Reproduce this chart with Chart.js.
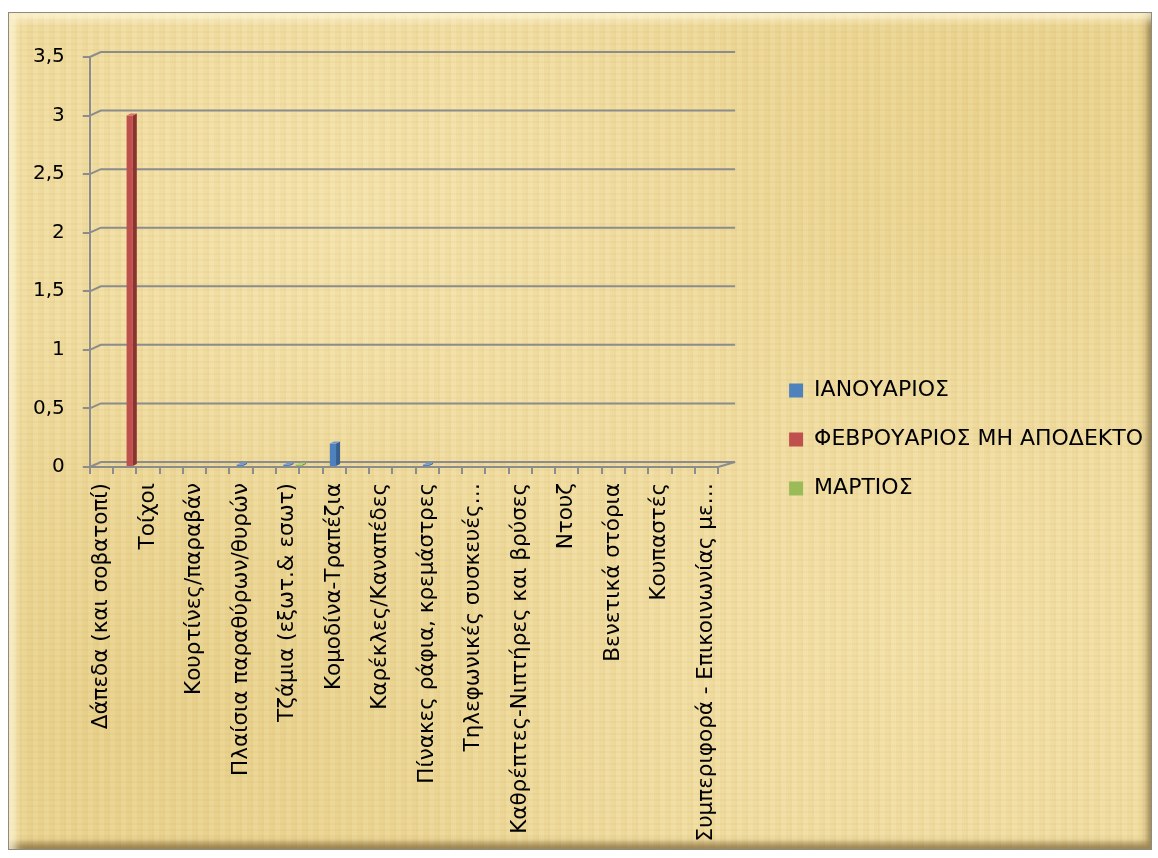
<!DOCTYPE html>
<html>
  <head>
    <meta charset="utf-8">
    <script src="https://cdn.jsdelivr.net/npm/chart.js@4.4.1/dist/chart.umd.min.js"></script>
    <style>
      body { margin: 0; background: #fff; }
      #frame {
        position: absolute; left: 8px; top: 12px; width: 1142px; height: 836px;
        border: 1px solid #8d8a80;
        background:
          repeating-linear-gradient(90deg, rgba(205,170,90,0.10) 0 2px, rgba(255,248,215,0.07) 2px 7px, rgba(205,170,90,0.05) 7px 11px),
          repeating-linear-gradient(0deg, rgba(205,170,90,0.08) 0 2px, rgba(255,248,215,0.05) 2px 6px),
          radial-gradient(ellipse at 30% 25%, rgba(248,234,185,0.55), rgba(248,234,185,0) 40%),
          radial-gradient(ellipse at 80% 75%, rgba(246,230,178,0.5), rgba(246,230,178,0) 45%),
          radial-gradient(ellipse at 10% 85%, rgba(222,195,115,0.45), rgba(222,195,115,0) 40%),
          radial-gradient(ellipse at 90% 10%, rgba(225,198,118,0.4), rgba(225,198,118,0) 35%),
          #eed99a;
        box-shadow: inset 7px 7px 8px rgba(255,248,220,0.75), inset -4px -6px 6px rgba(110,85,40,0.65);
      }
      #wrap { position: absolute; left: 0; top: 0; width: 1158px; height: 858px; }
    </style>
  </head>

  <body>
    <div id="frame"></div>
    <div id="wrap">
      <canvas id="canvas"></canvas>
    </div>
    <script>
      // categories (every other label is not shown in the original chart)
      const categories = [
        'Δάπεδα (και σοβατοπί)', '',
        'Τοίχοι', '',
        'Κουρτίνες/παραβάν', '',
        'Πλαίσια παραθύρων/θυρών', '',
        'Τζάμια (εξωτ.& εσωτ)', '',
        'Κομοδίνα-Τραπέζια', '',
        'Καρέκλες/Καναπέδες', '',
        'Πίνακες ράφια, κρεμάστρες', '',
        'Τηλεφωνικές συσκευές…', '',
        'Καθρέπτες-Νιπτήρες και βρύσες', '',
        'Ντουζ', '',
        'Βενετικά στόρια', '',
        'Κουπαστές', '',
        'Συμπεριφορά - Επικοινωνίας με…',
      ];

      const seriesNames = ['ΙΑΝΟΥΑΡΙΟΣ', 'ΦΕΒΡΟΥΑΡΙΟΣ ΜΗ ΑΠΟΔΕΚΤΟ', 'ΜΑΡΤΙΟΣ'];

      const january = [null, null, null, null, null, null, 0.02, null, 0.02, null, 0.2, null, null, null,
        0.02, null, null, null, null, null, null, null, null, null, null, null, null];
      const february = [null, 3, null, null, null, null, null, null, null, null, null, null, null, null,
        null, null, null, null, null, null, null, null, null, null, null, null, null];
      const march = [null, null, null, null, null, null, null, null, 0.02, null, null, null, null, null,
        null, null, null, null, null, null, null, null, null, null, null, null, null];

      const yTicks = [0, 0.5, 1, 1.5, 2, 2.5, 3, 3.5];

      const colors = ['#4f81bd', '#c0504d', '#9bbb59'];
      const sideColors = ['#375f8f', '#8a3432', '#6f8a3c'];
      const topColors = ['#6f9bd3', '#d8726f', '#b3d17a'];

      const DX = 11, DY = 5; // depth of the back wall
      const BX = 4, BY = 2;  // depth of a column

      const depth3d = {
        id: 'depth3d',
        afterLayout(chart) {
          // legend sits a little above the middle in the original
          chart.legend.top -= 11;
          chart.legend.bottom -= 11;
        },
        beforeDatasetsDraw(chart) {
          const ctx = chart.ctx;
          const { left, right } = chart.chartArea;
          const y = chart.scales.y;
          ctx.save();
          ctx.strokeStyle = '#8c8c8c';
          ctx.lineWidth = 2;
          yTicks.forEach((v) => {
            const py = y.getPixelForValue(v);
            ctx.beginPath();
            ctx.moveTo(left, py);
            ctx.lineTo(left + DX, py - DY);
            ctx.lineTo(right + 17, py - DY);
            ctx.stroke();
          });
          const p0 = y.getPixelForValue(0);
          ctx.beginPath();
          ctx.moveTo(right, p0);
          ctx.lineTo(right + 17, p0 - DY);
          ctx.stroke();
          ctx.restore();

          ctx.save();
          ctx.translate(5, 0);
        },
        afterDatasetsDraw(chart) {
          const ctx = chart.ctx;
          chart.data.datasets.forEach((ds, di) => {
            const meta = chart.getDatasetMeta(di);
            meta.data.forEach((bar, i) => {
              if (ds.data[i] == null) return;
              const w = bar.width, x0 = bar.x - w / 2, x1 = bar.x + w / 2;
              const top = bar.y, base = bar.base;
              ctx.fillStyle = sideColors[di];
              ctx.beginPath();
              ctx.moveTo(x1, top);
              ctx.lineTo(x1 + BX, top - BY);
              ctx.lineTo(x1 + BX, base - BY);
              ctx.lineTo(x1, base);
              ctx.closePath();
              ctx.fill();
              ctx.fillStyle = topColors[di];
              ctx.beginPath();
              ctx.moveTo(x0, top);
              ctx.lineTo(x0 + BX, top - BY);
              ctx.lineTo(x1 + BX, top - BY);
              ctx.lineTo(x1, top);
              ctx.closePath();
              ctx.fill();
            });
          });
          ctx.restore();
        },
      };

      Chart.defaults.font.family = '"DejaVu Sans"';
      Chart.defaults.font.size = 20;
      Chart.defaults.color = '#000';

      new Chart(document.getElementById('canvas'), {
        type: 'bar',
        data: {
          labels: categories,
          datasets: [
            { label: seriesNames[0], data: january, backgroundColor: colors[0] },
            { label: seriesNames[1], data: february, backgroundColor: colors[1] },
            { label: seriesNames[2], data: march, backgroundColor: colors[2] },
          ],
        },
        options: {
          responsive: true,
          maintainAspectRatio: false,
          animation: false,
          datasets: { bar: { categoryPercentage: 0.8, barPercentage: 1 } },
          layout: { padding: { top: 57, left: 15, right: 5, bottom: 14 } },
          plugins: {
            legend: {
              position: 'right',
              maxWidth: 500,
              labels: { boxWidth: 14, boxHeight: 14, padding: 27, font: { size: 22 } },
            },
            tooltip: { enabled: false },
          },
          scales: {
            x: {
              grid: { drawOnChartArea: false, color: '#8c8c8c', lineWidth: 2, tickLength: 7 },
              border: { color: '#8c8c8c', width: 2 },
              ticks: { autoSkip: false, minRotation: 90, maxRotation: 90, padding: 9, font: { size: 21.5 } },
              afterFit: (s) => { s.height = 377; },
            },
            y: {
              min: 0,
              max: 3.5,
              afterBuildTicks: (s) => { s.ticks = yTicks.map((v) => ({ value: v })); },
              grid: { drawOnChartArea: false, color: '#8c8c8c', lineWidth: 2, tickLength: 7 },
              border: { color: '#8c8c8c', width: 2 },
              ticks: { padding: 18, callback: (v) => String(v).replace('.', ',') },
            },
            pad: {
              position: 'right',
              display: true,
              grid: { display: false },
              border: { display: false },
              ticks: { display: false },
              afterFit: (s) => { s.width = 44; },
            },
          },
        },
        plugins: [depth3d],
      });
    </script>
  </body>
</html>
